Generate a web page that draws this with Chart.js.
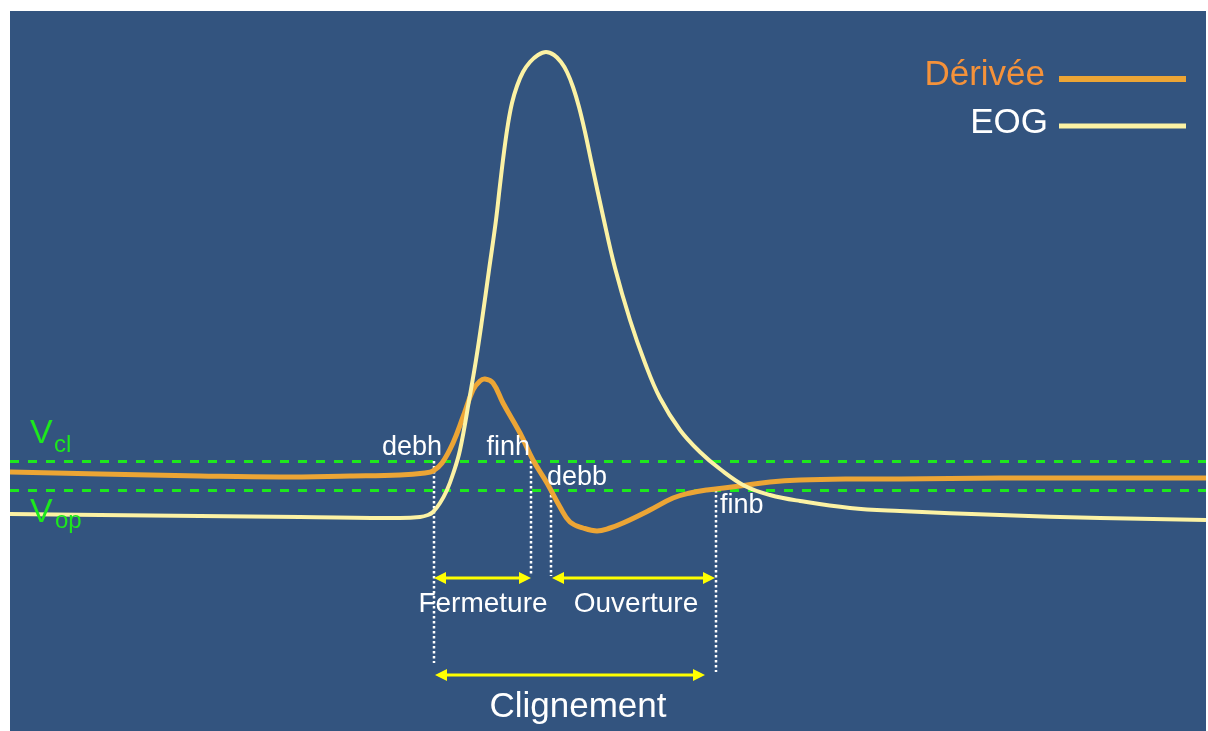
<!DOCTYPE html>
<html>
<head>
<meta charset="utf-8">
<script src="https://cdn.jsdelivr.net/npm/chart.js@4/dist/chart.umd.min.js"></script>
<style>
    body { margin: 0; background: #ffffff; }
    #panel { position: absolute; left: 10px; top: 11px; width: 1196px; height: 720px; background: #33547f; }
</style>
</head>
<body>
<div id="panel"><canvas id="blinkChart" width="1196" height="720"></canvas></div>
<script>
// temps (unités arbitraires) et amplitudes
const eogTime  = [0, 90, 190, 290, 390, 410, 418, 423, 430, 437, 443, 450, 460, 466, 472, 479, 486, 490, 494, 498, 502, 507, 513, 520, 528, 536, 544, 551, 557, 563, 569, 575, 582, 593, 605, 620, 635, 650, 670, 690, 710, 735, 760, 790, 840, 890, 990, 1090, 1196];
const eogValue = [217, 216, 215, 214, 213, 214, 216, 219, 228, 241, 257, 281, 336, 371, 411, 461, 511, 546, 579, 607, 628, 645, 659, 669, 676, 679, 676, 669, 659, 644, 624, 599, 566, 515, 463, 411, 368, 333, 301, 279, 262, 245, 236, 230, 223, 220, 216, 213, 211];

const derivTime  = [0, 90, 190, 270, 340, 390, 415, 423, 432, 443, 453, 463, 470, 475, 483, 493, 510, 523, 537, 550, 560, 573, 587, 600, 613, 640, 663, 680, 697, 730, 760, 790, 840, 890, 990, 1196];
const derivValue = [259, 257, 255, 254, 255, 256, 258, 260, 268, 288, 314, 341, 350, 352, 348, 328, 298, 271, 248, 224, 209, 203, 200, 203, 208, 221, 233, 238, 241, 245, 249, 251, 252, 252, 253, 253];

// seuils
const thresholdNames  = ['cl', 'op'];
const thresholdValues = [270, 241];

// instants détectés
const eventNames = ['debh', 'finh', 'debb', 'finb'];
const eventTimes = [424, 521, 541, 706];

// intervalles (début, fin)
const intervalNames = ['Fermeture', 'Ouverture', 'Clignement'];
const intervalStart = [424, 542, 425];
const intervalEnd   = [521, 705, 695];

const FONT = '"Liberation Sans", Arial, sans-serif';
const EOG_COLOR = '#fcf2a4';
const DERIV_COLOR = '#eca535';
const GREEN = '#1de81d';

function toPoints(xs, ys) {
    return xs.map((x, i) => ({ x: x, y: ys[i] }));
}

function arrow(ctx, x1, x2, y) {
    ctx.beginPath();
    ctx.moveTo(x1 + 8, y);
    ctx.lineTo(x2 - 8, y);
    ctx.stroke();
    ctx.beginPath();
    ctx.moveTo(x1, y); ctx.lineTo(x1 + 12, y - 6); ctx.lineTo(x1 + 12, y + 6); ctx.closePath();
    ctx.fill();
    ctx.beginPath();
    ctx.moveTo(x2, y); ctx.lineTo(x2 - 12, y - 6); ctx.lineTo(x2 - 12, y + 6); ctx.closePath();
    ctx.fill();
}

const annotations = {
    id: 'annotations',
    beforeDatasetsDraw(chart) {
        const ctx = chart.ctx;
        const xs = chart.scales.x, ys = chart.scales.y;
        ctx.save();
        // seuils en tirets verts
        ctx.strokeStyle = GREEN;
        ctx.lineWidth = 3;
        ctx.setLineDash([9, 9]);
        thresholdValues.forEach(v => {
            const y = Math.round(ys.getPixelForValue(v)) + 0.5;
            ctx.beginPath();
            ctx.moveTo(chart.chartArea.left, y);
            ctx.lineTo(chart.chartArea.right, y);
            ctx.stroke();
        });
        // verticales pointillées
        ctx.strokeStyle = '#ffffff';
        ctx.lineWidth = 2.5;
        ctx.setLineDash([2.5, 2.5]);
        const bottoms = [68, 155, 155, 59];
        eventTimes.forEach((t, i) => {
            const x = Math.round(xs.getPixelForValue(t));
            const top = ys.getPixelForValue(i < 2 ? thresholdValues[0] : thresholdValues[1]);
            ctx.beginPath();
            ctx.moveTo(x, top);
            ctx.lineTo(x, ys.getPixelForValue(bottoms[i]));
            ctx.stroke();
        });
        ctx.restore();
    },
    afterDatasetsDraw(chart) {
        const ctx = chart.ctx;
        const xs = chart.scales.x, ys = chart.scales.y;
        ctx.save();
        // flèches jaunes
        ctx.strokeStyle = '#ffff00';
        ctx.fillStyle = '#ffff00';
        ctx.lineWidth = 3;
        const arrowLevels = [153, 153, 56];
        intervalNames.forEach((n, i) => {
            arrow(ctx, xs.getPixelForValue(intervalStart[i]), xs.getPixelForValue(intervalEnd[i]), ys.getPixelForValue(arrowLevels[i]));
        });
        // textes des intervalles
        ctx.fillStyle = '#ffffff';
        ctx.textAlign = 'center';
        ctx.textBaseline = 'alphabetic';
        ctx.font = '28px ' + FONT;
        ctx.fillText(intervalNames[0], 473, 601);
        ctx.fillText(intervalNames[1], 626, 601);
        ctx.font = '35px ' + FONT;
        ctx.fillText(intervalNames[2], 568, 706);
        // noms des instants
        ctx.font = '27px ' + FONT;
        ctx.textAlign = 'right';
        ctx.fillText(eventNames[0], 432, 444);
        ctx.fillText(eventNames[1], 520, 444);
        ctx.textAlign = 'left';
        ctx.fillText(eventNames[2], 537, 474);
        ctx.fillText(eventNames[3], 710, 502);
        // V seuils
        ctx.fillStyle = GREEN;
        ctx.font = '34px ' + FONT;
        ctx.fillText('V', 20, 432);
        ctx.fillText('V', 20, 511);
        ctx.font = '24px ' + FONT;
        ctx.fillText(thresholdNames[0], 44, 441);
        ctx.fillText(thresholdNames[1], 45, 517);
        // légende
        ctx.textAlign = 'right';
        ctx.font = '35px ' + FONT;
        ctx.fillStyle = '#f5923a';
        ctx.fillText('Dérivée', 1035, 74);
        ctx.fillStyle = '#ffffff';
        ctx.fillText('EOG', 1038, 122);
        ctx.lineCap = 'butt';
        ctx.strokeStyle = DERIV_COLOR;
        ctx.lineWidth = 6;
        ctx.beginPath(); ctx.moveTo(1049, 68); ctx.lineTo(1176, 68); ctx.stroke();
        ctx.strokeStyle = EOG_COLOR;
        ctx.lineWidth = 5;
        ctx.beginPath(); ctx.moveTo(1049, 115); ctx.lineTo(1176, 115); ctx.stroke();
        ctx.restore();
    }
};

const blinkChart = new Chart(document.getElementById('blinkChart'), {
    type: 'line',
    data: {
        datasets: [
            {
                label: 'EOG',
                data: toPoints(eogTime, eogValue),
                borderColor: EOG_COLOR,
                borderWidth: 4,
                pointRadius: 0,
                tension: 0.4,
                fill: false
            },
            {
                label: 'Dérivée',
                data: toPoints(derivTime, derivValue),
                borderColor: DERIV_COLOR,
                borderWidth: 5,
                pointRadius: 0,
                tension: 0.4,
                fill: false
            }
        ]
    },
    options: {
        responsive: false,
        animation: false,
        layout: { padding: 0 },
        plugins: {
            legend: { display: false },
            tooltip: { enabled: false }
        },
        scales: {
            x: { type: 'linear', min: 0, max: 1196, display: false },
            y: { type: 'linear', min: 0, max: 720, display: false }
        }
    },
    plugins: [annotations]
});
</script>
</body>
</html>
